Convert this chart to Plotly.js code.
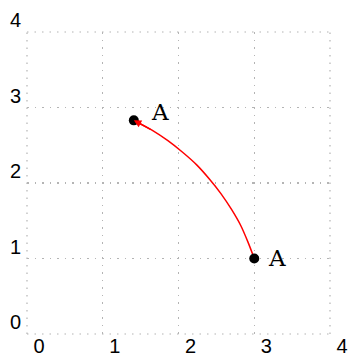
<!DOCTYPE html>
<html><head><meta charset="utf-8">
<script src="https://cdn.plot.ly/plotly-3.0.1.min.js"></script>
<style>html,body{margin:0;padding:0;background:#fff}</style>
</head><body><div id="chart" style="width:348px;height:356px"></div>
<script>
const pointX = [1.41, 3.0];
const pointY = [2.83, 1.0];
const arcX = [3.0, 2.92, 2.82, 2.70, 2.56, 2.41, 2.24, 2.05, 1.86, 1.65, 1.41];
const arcY = [1.0, 1.21, 1.44, 1.65, 1.86, 2.05, 2.24, 2.41, 2.56, 2.70, 2.83];
const labelText = ['A', 'A'];
const labelX = [1.76, 3.30];
const labelY = [2.94, 1.01];
const tickVals = [0, 1, 2, 3, 4];
const tickText = ['0', '1', '2', '3', '4'];

const n = arcX.length;
const gridColor = '#b4b4b4';
const gridDash = '1.5px,6px';
const traces = [
  {x: arcX, y: arcY, mode: 'lines', line: {color: '#ff0000', width: 1.5, shape: 'spline', smoothing: 0.8}, hoverinfo: 'skip'},
  {x: pointX, y: pointY, mode: 'markers', marker: {color: '#000000', size: 10}, hoverinfo: 'skip'}
];
const annotations = labelText.map((t, i) => ({
  x: labelX[i], y: labelY[i], xref: 'x', yref: 'y', text: t, showarrow: false,
  xanchor: 'center', yanchor: 'middle',
  font: {family: 'DejaVu Serif', size: 23, color: '#000'}
}));
annotations.push({
  x: arcX[n-1], y: arcY[n-1], ax: arcX[n-2], ay: arcY[n-2], xref: 'x', yref: 'y', axref: 'x', ayref: 'y',
  text: '', showarrow: true, arrowhead: 2, arrowsize: 1, arrowwidth: 1.5, arrowcolor: '#ff0000'
});
const edge = {type: 'line', layer: 'below', line: {color: gridColor, width: 1.2, dash: gridDash}};
const shapes = [
  Object.assign({}, edge, {xref: 'paper', yref: 'paper', x0: 0, x1: 0, y0: 0, y1: 1}),
  Object.assign({}, edge, {xref: 'paper', yref: 'paper', x0: 1, x1: 1, y0: 0, y1: 1}),
  Object.assign({}, edge, {xref: 'paper', yref: 'paper', x0: 0, x1: 1, y0: 0, y1: 0}),
  Object.assign({}, edge, {xref: 'paper', yref: 'paper', x0: 0, x1: 1, y0: 1, y1: 1})
];
const axisCommon = {
  range: [0, 4], tickmode: 'array', tickvals: tickVals, ticktext: tickText,
  showgrid: true, gridcolor: gridColor, gridwidth: 1.2, griddash: gridDash,
  zeroline: false, showline: false, ticks: '', fixedrange: true, ticklabeloverflow: 'allow',
  tickfont: {family: 'Liberation Sans, Arial, sans-serif', size: 20, color: '#000'}
};
const layout = {
  width: 348, height: 356, margin: {l: 27, r: 18, t: 32, b: 22},
  paper_bgcolor: '#fff', plot_bgcolor: '#fff', showlegend: false,
  xaxis: Object.assign({}, axisCommon, {ticklabelshift: 12, ticklabelstandoff: -2}),
  yaxis: Object.assign({}, axisCommon, {ticklabelshift: -12, ticklabelstandoff: 5}),
  shapes: shapes,
  annotations: annotations
};
Plotly.newPlot('chart', traces, layout, {staticPlot: true, displayModeBar: false});
</script></body></html>
